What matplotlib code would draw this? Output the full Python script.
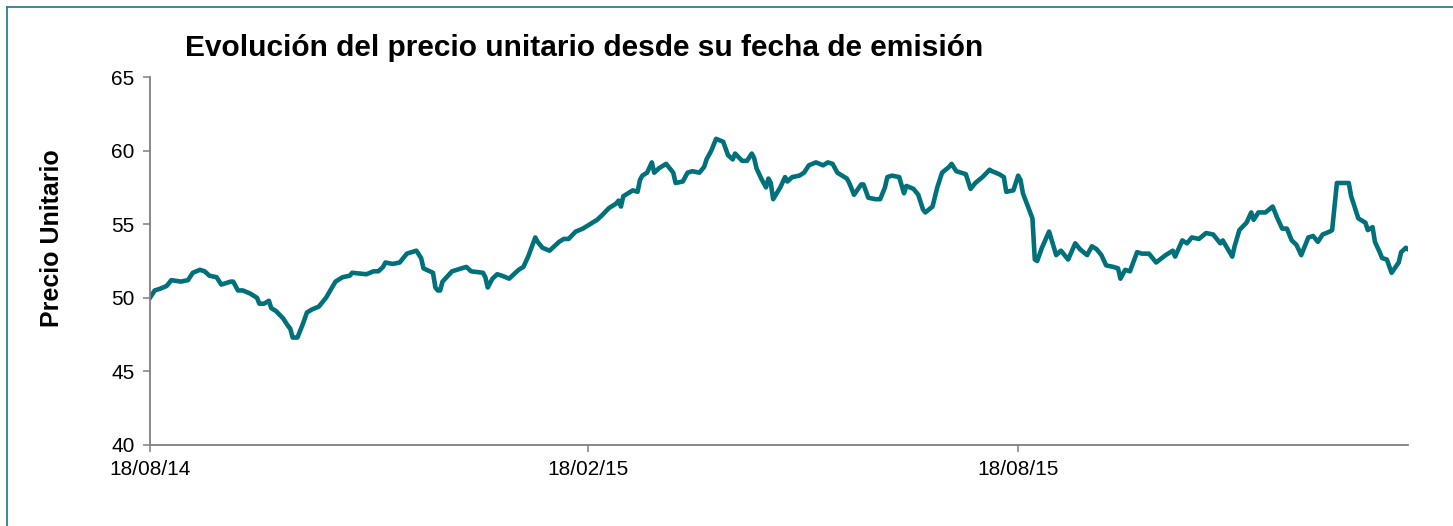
import matplotlib
matplotlib.use("Agg")
import matplotlib.pyplot as plt
from matplotlib.lines import Line2D
import pandas as pd

# data: days since 18/08/14 and unit price
start_date = "2014-08-18"
days = [
    0, 2, 4, 7, 9, 13, 16, 18, 21, 23, 25, 28, 30, 34, 35, 37, 39, 42, 45, 46,
    48, 50, 51, 53, 56, 58, 59, 60, 62, 64, 66, 68, 71, 74, 78, 79, 81, 84, 85, 91,
    94, 96, 98, 99, 102, 105, 106, 108, 112, 114, 115, 119, 120, 121, 122, 123, 127, 133, 135, 140,
    141, 142, 144, 146, 148, 151, 153, 155, 157, 159, 162, 163, 165, 168, 172, 174, 176, 179, 182, 184,
    186, 188, 190, 193, 196, 197, 198, 199, 202, 203, 205, 206, 207, 209, 211, 212, 214, 217, 219, 220,
    221, 224, 226, 228, 231, 233, 234, 236, 238, 241, 243, 245, 246, 249, 251, 253, 254, 255, 257, 259,
    260, 261, 262, 265, 267, 268, 270, 273, 275, 277, 280, 283, 285, 287, 289, 293, 294, 296, 299, 300,
    302, 305, 307, 309, 310, 312, 315, 317, 318, 321, 323, 325, 326, 329, 331, 333, 336, 337, 339, 343,
    345, 347, 350, 353, 354, 357, 359, 360, 363, 365, 366, 367, 371, 372, 373, 375, 378, 381, 383, 384,
    386, 389, 391, 394, 396, 398, 400, 402, 405, 407, 408, 410, 412, 415, 417, 420, 423, 427, 430, 431,
    434, 436, 438, 441, 444, 447, 450, 451, 455, 456, 458, 461, 463, 464, 466, 469, 472, 474, 476, 478,
    480, 482, 484, 487, 489, 491, 493, 496, 497, 499, 504, 505, 508, 511, 512, 514, 515, 517, 518, 520,
    522, 525, 526, 528, 529,
]
prices = [
    50.0, 50.5, 50.6, 50.8, 51.2, 51.1, 51.2, 51.7, 51.9, 51.8, 51.5, 51.4, 50.9, 51.1, 51.1, 50.5, 50.5, 50.3, 50.0, 49.6,
    49.6, 49.8, 49.3, 49.1, 48.6, 48.1, 47.9, 47.3, 47.3, 48.1, 49.0, 49.2, 49.4, 50.0, 51.1, 51.2, 51.4, 51.5, 51.7, 51.6,
    51.8, 51.8, 52.1, 52.4, 52.3, 52.4, 52.6, 53.0, 53.2, 52.7, 52.0, 51.7, 50.7, 50.5, 50.5, 51.1, 51.8, 52.1, 51.8, 51.7,
    51.4, 50.7, 51.3, 51.6, 51.5, 51.3, 51.6, 51.9, 52.1, 52.8, 54.1, 53.8, 53.4, 53.2, 53.8, 54.0, 54.0, 54.5, 54.7, 54.9,
    55.1, 55.3, 55.6, 56.1, 56.4, 56.6, 56.2, 56.9, 57.2, 57.3, 57.2, 58.0, 58.3, 58.5, 59.2, 58.5, 58.8, 59.1, 58.7, 58.5,
    57.8, 57.9, 58.5, 58.6, 58.5, 58.9, 59.4, 60.0, 60.8, 60.6, 59.7, 59.4, 59.8, 59.3, 59.3, 59.8, 59.5, 58.8, 58.1, 57.5,
    58.1, 57.8, 56.7, 57.5, 58.2, 57.9, 58.2, 58.3, 58.5, 59.0, 59.2, 59.0, 59.2, 59.1, 58.5, 58.1, 57.8, 57.0, 57.7, 57.7,
    56.8, 56.7, 56.7, 57.5, 58.2, 58.3, 58.2, 57.1, 57.6, 57.4, 57.0, 56.0, 55.8, 56.2, 57.5, 58.5, 58.9, 59.1, 58.6, 58.4,
    57.4, 57.8, 58.2, 58.7, 58.6, 58.4, 58.2, 57.2, 57.3, 58.3, 58.0, 57.1, 55.4, 52.6, 52.5, 53.4, 54.5, 52.9, 53.2, 53.0,
    52.6, 53.7, 53.3, 52.9, 53.5, 53.3, 52.9, 52.2, 52.1, 52.0, 51.3, 51.9, 51.8, 53.1, 53.0, 53.0, 52.4, 52.9, 53.2, 52.8,
    53.9, 53.7, 54.1, 54.0, 54.4, 54.3, 53.7, 53.9, 52.8, 53.5, 54.6, 55.1, 55.8, 55.3, 55.8, 55.8, 56.2, 55.4, 54.7, 54.7,
    53.9, 53.6, 52.9, 54.1, 54.2, 53.8, 54.3, 54.5, 54.6, 57.8, 57.8, 56.9, 55.4, 55.1, 54.6, 54.8, 53.8, 53.1, 52.7, 52.6,
    51.7, 52.4, 53.1, 53.4, 53.3,
]
tick_dates = ["2014-08-18", "2015-02-18", "2015-08-18"]
tick_labels = ["18/08/14", "18/02/15", "18/08/15"]
y_ticks = [40, 45, 50, 55, 60, 65]

dates = pd.Timestamp(start_date) + pd.to_timedelta(days, unit="D")

plt.rcParams["font.family"] = ["Liberation Sans", "DejaVu Sans"]

fig = plt.figure(figsize=(14.53, 5.26), dpi=100)
ax = fig.add_axes([0.1032, 0.154, 0.866, 0.6996])

ax.plot(dates, prices, color="#00707a", lw=3.3, solid_joinstyle="round")

ax.set_xlim(dates[0], dates[-1])
ax.set_ylim(40, 65)
ax.set_yticks(y_ticks)
ax.set_xticks(pd.to_datetime(tick_dates))
ax.set_xticklabels(tick_labels)

for side in ["top", "right"]:
    ax.spines[side].set_visible(False)
for side in ["left", "bottom"]:
    ax.spines[side].set_color("#7f7f7f")
    ax.spines[side].set_linewidth(1.3)
ax.tick_params(axis="both", direction="out", length=5, width=1.1, color="#7f7f7f",
               labelsize=15, labelcolor="black")
ax.tick_params(axis="y", pad=6)
ax.tick_params(axis="x", pad=6)

fig.text(0.0358, 0.5475, "Precio Unitario", rotation=90, ha="center", va="center",
         fontsize=18, fontweight="bold")
fig.text(0.1273, 1 - 56 / 526, "Evolución del precio unitario desde su fecha de emisión",
         ha="left", va="baseline", fontsize=21.5, fontweight="bold")

# frame lines at top and left of the picture
fig.add_artist(Line2D([0.0048, 1.0], [0.9867, 0.9867], transform=fig.transFigure,
                      color="#2f7f8c", lw=1.3))
fig.add_artist(Line2D([0.0048, 0.0048], [0.0, 0.9867], transform=fig.transFigure,
                      color="#2f7f8c", lw=1.3))

fig.savefig("out.png", dpi=100, facecolor="white")
